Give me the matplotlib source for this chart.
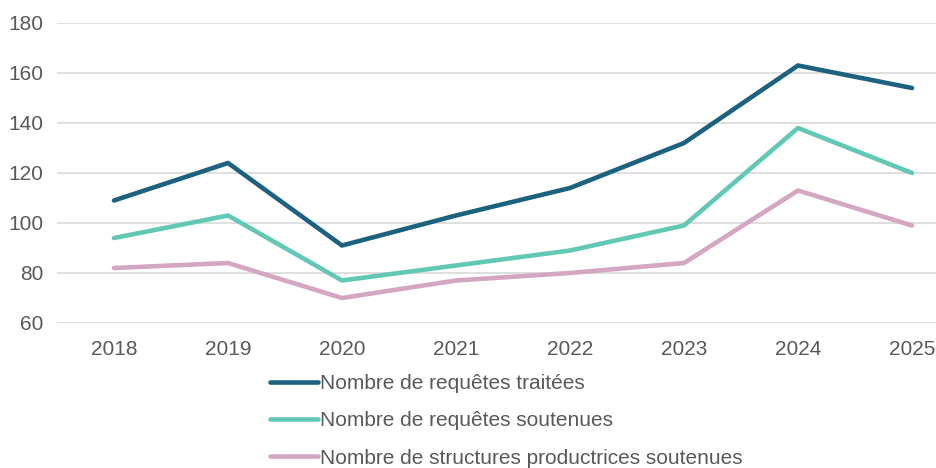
import matplotlib.pyplot as plt

plt.rcParams['font.family'] = ['Liberation Sans', 'DejaVu Sans']

years = ['2018', '2019', '2020', '2021', '2022', '2023', '2024', '2025']
traitees = [109, 124, 91, 103, 114, 132, 163, 154]
soutenues = [94, 103, 77, 83, 89, 99, 138, 120]
structures = [82, 84, 70, 77, 80, 84, 113, 99]

labels = ['Nombre de requêtes traitées',
          'Nombre de requêtes soutenues',
          'Nombre de structures productrices soutenues']
colors = ['#1c6180', '#62c8b6', '#d4a6c2']

fig = plt.figure(figsize=(9.36, 4.68), dpi=100)
ax = fig.add_axes([57 / 936, 145 / 468, 912 / 936, 300 / 468])

x = range(len(years))
for vals, lab, col in zip([traitees, soutenues, structures], labels, colors):
    ax.plot(x, vals, color=col, lw=3.3, label=lab, solid_capstyle='round')

ax.set_xlim(-0.5, len(years) - 0.5)
ax.set_ylim(60, 180)
ax.set_yticks(range(60, 181, 20))
ax.set_xticks(list(x))
ax.set_xticklabels(years)
ax.grid(axis='y', color='#d9d9d9', lw=1.2)
ax.set_axisbelow(True)
for s in ax.spines.values():
    s.set_visible(False)
ax.tick_params(length=0, labelsize=15, labelcolor='#595959', pad=10)
ax.tick_params(axis='x', pad=12)

fig.legend(loc='upper left', bbox_to_anchor=(270 / 936, (468 - 374) / 468),
           frameon=False, fontsize=15, labelcolor='#595959',
           handlelength=2.3, handletextpad=0.1, labelspacing=0.88,
           borderpad=0, borderaxespad=0)

fig.savefig('out.png', dpi=100)
